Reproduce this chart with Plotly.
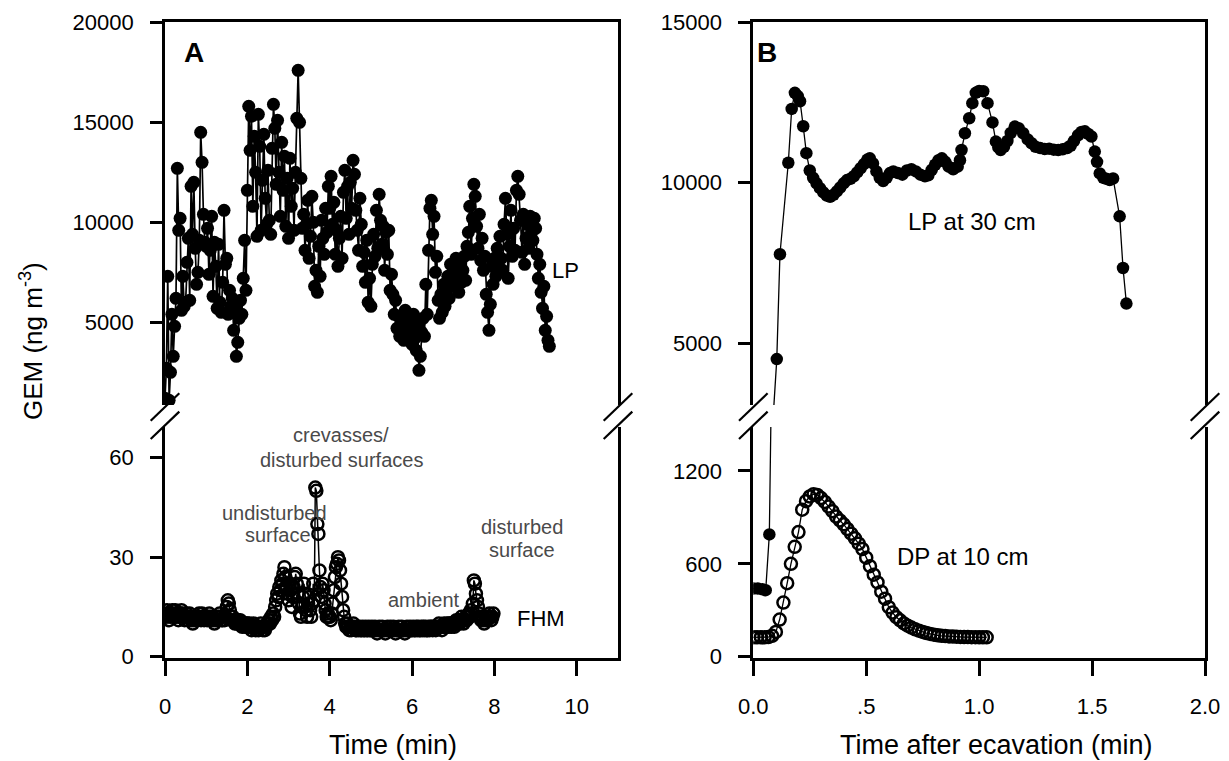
import numpy as np
import plotly.graph_objects as go

# ---------------- DATA ----------------
# Panel A: LP (filled) sampled every 2 s, FHM (open) sampled every 1.5 s
LP_A_DT = 1.0 / 30.0
lp_a = [
    1200, 2700, 7300, 1100, 2500, 5400, 3300, 4800, 6200, 12700, 9600, 10200, 5600, 7300, 5800, 6000, 8000, 9200, 6100, 11800, 9400, 12000, 8700, 6900, 7500, 9100, 14500, 13000, 10400, 9000,
    8800, 9700, 7400, 8600, 10300, 6300, 9000, 7800, 5700, 8900, 6000, 5500, 7000, 10600, 7900, 8200, 5400, 6600, 5800, 6200, 4600, 5800, 3300, 4000, 5200, 6100, 5400, 7200, 9100, 6600,
    11600, 15800, 13600, 15300, 10800, 14300, 12500, 9300, 15400, 13800, 9600, 12100, 14400, 11200, 9900, 12600, 10100, 9400, 13700, 15900, 14700, 11900, 15100, 12500, 10300, 14000, 11600, 13300, 9800, 12200,
    9200, 13200, 10800, 11700, 9600, 12500, 15200, 17600, 15000, 12200, 9700, 10400, 8600, 9900, 11100, 8200, 9300, 11300, 10000, 6800, 7600, 6500, 8800, 7300, 10100, 9200, 8400, 10700, 9500, 11800,
    10700, 12300, 9900, 11000, 8400, 9600, 7800, 9200, 10300, 8200, 11500, 12600, 10200, 11800, 9400, 12000, 10700, 13100, 12400, 10600, 9600, 8600, 11200, 9900, 7800, 8500, 7000, 9100, 6000, 7200,
    5800, 7900, 9400, 8300, 10600, 8700, 11400, 10100, 8900, 9800, 7600, 9500, 8400, 9600, 6600, 7400, 6400, 5400, 6100, 4700, 5300, 4300, 5000, 4500, 4100, 5600, 4700, 4300, 5200, 4600,
    3900, 5400, 4200, 3600, 4900, 2600, 3300, 4500, 5200, 4300, 6900, 5400, 8600, 10700, 11100, 9400, 10300, 7500, 8300, 6100, 5200, 6400, 5500, 6900, 5800, 6600, 7300, 6200, 7900, 6800,
    7700, 7100, 8200, 7400, 6500, 7900, 7000, 7600, 8300, 7100, 8800, 9500, 10800, 8400, 10200, 11900, 11300, 9800, 8700, 10400, 8100, 9200, 7600, 8300, 6400, 5500, 4600, 5900, 7800, 6900,
    8200, 7300, 8700, 7800, 9300, 8200, 7600, 9900, 11200, 9400, 7200, 8800, 10600, 8300, 9700, 8600, 11600, 12300, 11400, 10100, 8500, 10400, 7900, 9200, 9900, 8700, 10300, 9500, 9100, 10200,
    9700, 8400, 7200, 7900, 6500, 5700, 6800, 4600, 5300, 4100, 3800,
]

FHM_DT = 0.025
fhm_a = [
    13, 12, 14, 13, 11, 12, 13, 14, 12, 13, 14, 12, 13, 11, 12, 13, 14, 13, 12, 11,
    12, 13, 11, 12, 13, 12, 11, 10, 11, 12, 12, 11, 12, 13, 12, 11, 13, 12, 11, 12,
    12, 11, 12, 13, 12, 11, 12, 11, 10, 11, 12, 11, 12, 13, 12, 11, 11, 12, 11, 12,
    15, 17, 16, 14, 12, 11, 12, 11, 10, 11, 10, 11, 10, 11, 10, 9, 10, 10, 9, 10,
    10, 9, 10, 9, 8, 9, 10, 9, 8, 9, 9, 8, 9, 10, 9, 8, 9, 8, 9, 10,
    10, 11, 10, 12, 11, 13, 12, 15, 17, 19, 18, 21, 20, 23, 22, 25, 27, 24, 21, 19,
    17, 22, 20, 15, 18, 21, 24, 25, 22, 19, 16, 13, 12, 15, 18, 22, 19, 14, 12, 16,
    18, 14, 12, 16, 22, 17, 51, 50, 40, 37, 26, 21, 18, 22, 20, 16, 14, 12, 13, 12,
    12, 11, 13, 16, 20, 24, 27, 28, 30, 29, 26, 22, 18, 14, 12, 10, 9, 10, 9, 8,
    9, 8, 9, 10, 9, 8, 8, 9, 8, 9, 8, 8, 9, 8, 8, 9, 8, 8, 9, 8,
    8, 9, 8, 8, 9, 8, 7, 8, 9, 8, 8, 9, 8, 8, 7, 8, 9, 8, 8, 9,
    8, 8, 9, 8, 7, 8, 8, 9, 8, 8, 9, 8, 8, 7, 8, 9, 8, 8, 9, 8,
    8, 9, 8, 8, 9, 8, 9, 8, 8, 9, 8, 9, 8, 9, 8, 8, 9, 8, 9, 9,
    8, 9, 9, 8, 9, 9, 10, 9, 9, 8, 9, 10, 9, 9, 10, 9, 10, 10, 9, 10,
    10, 9, 10, 11, 10, 11, 10, 11, 12, 11, 10, 11, 12, 11, 12, 13, 12, 14, 13, 16,
    23, 22, 19, 17, 15, 13, 12, 11, 12, 11, 10, 11, 12, 11, 12, 13, 12, 11, 12, 13,
]

# Panel B: LP at 30 cm (filled)
lp_b_t = [
    0.000, 0.020, 0.040, 0.055, 0.071, 0.104, 0.118, 0.155, 0.170, 0.184, 0.197, 0.207, 0.221, 0.235, 0.250,
    0.265, 0.280, 0.295, 0.310, 0.325, 0.340, 0.355, 0.370, 0.385, 0.400, 0.415, 0.430, 0.445, 0.460, 0.475,
    0.490, 0.505, 0.516, 0.530, 0.545, 0.560, 0.575, 0.590, 0.605, 0.620, 0.640, 0.660, 0.680, 0.700, 0.720,
    0.740, 0.760, 0.775, 0.790, 0.805, 0.820, 0.835, 0.850, 0.865, 0.885, 0.905, 0.915, 0.922, 0.937, 0.956,
    0.970, 0.985, 1.000, 1.018, 1.037, 1.059, 1.074, 1.085, 1.095, 1.110, 1.125, 1.140, 1.158, 1.175, 1.195,
    1.215, 1.232, 1.250, 1.270, 1.290, 1.310, 1.330, 1.350, 1.370, 1.390, 1.405, 1.420, 1.438, 1.453, 1.468,
    1.483, 1.497, 1.512, 1.522, 1.534, 1.550, 1.563, 1.578, 1.593, 1.622, 1.637, 1.652,
]
lp_b = [
    440, 440, 435, 430, 790, 4500, 7770, 10620, 12300, 12800, 12700, 12540, 11760, 10920, 10380,
    10150, 9980, 9830, 9700, 9600, 9560, 9620, 9730, 9850, 9980, 10080, 10120, 10200, 10320, 10450,
    10580, 10720, 10760, 10600, 10350, 10150, 10050, 10150, 10300, 10350, 10300, 10250, 10380, 10420, 10350,
    10250, 10200, 10230, 10400, 10560, 10700, 10760, 10650, 10500, 10420, 10500, 10700, 11020, 11540, 12010,
    12480, 12800, 12860, 12850, 12480, 11880, 11280, 11100, 11020, 11120, 11300, 11550, 11750, 11700, 11540,
    11350, 11230, 11120, 11080, 11050, 11060, 11030, 11020, 11040, 11080, 11150, 11300, 11480, 11580, 11600,
    11520, 11440, 10970, 10650, 10290, 10150, 10120, 10080, 10130, 8950, 7340, 6230,
]

# Panel B: DP at 10 cm (open), sampled every 1 s
DP_DT = 1.0 / 60.0
dp_b = [
    125, 125, 125, 125, 127, 135, 160, 240, 350, 475, 600, 710, 805, 950, 1005, 1035, 1050, 1045, 1025, 1000,
    970, 940, 905, 880, 855, 825, 795, 765, 730, 695, 640, 585, 530, 480, 420, 375, 320, 285, 255, 235,
    215, 200, 188, 177, 168, 160, 153, 147, 142, 138, 135, 133, 131, 130, 129, 128, 127, 127, 126, 126,
    125, 125, 125,
]

x_ticks_a = [0, 2, 4, 6, 8, 10]
x_ticks_b = [0.0, 0.5, 1.0, 1.5, 2.0]
x_ticktext_b = ["0.0", ".5", "1.0", "1.5", "2.0"]
y_ticks_a_low = [0, 30, 60]
y_ticks_a_up = [5000, 10000, 15000, 20000]
y_ticks_b_low = [0, 600, 1200]
y_ticks_b_up = [5000, 10000, 15000]

# ---------------- LAYOUT GEOMETRY ----------------
W, H = 1229, 761
FONT = "Liberation Sans, Arial, Helvetica, sans-serif"


def px(x):
    return x / W


def py(y):
    return (H - y) / H


A_L, A_R = 165.0, 618.0
B_L, B_R = 753.3, 1205.0
TOP, UP_BOT, LOW_TOP, BOT = 22.3, 405.0, 427.0, 658.0

t_lp_a = np.arange(len(lp_a)) * LP_A_DT
t_fhm = np.arange(len(fhm_a)) * FHM_DT
t_dp = np.arange(len(dp_b)) * DP_DT

fig = go.Figure()
filled = dict(symbol="circle", size=13, color="black")
filled_b = dict(symbol="circle", size=12.5, color="black")
opened = dict(symbol="circle-open", size=12, color="black", line=dict(width=2.5, color="black"))

fig.add_trace(go.Scatter(x=t_lp_a, y=lp_a, xaxis="x", yaxis="y2", mode="lines+markers",
                         marker=filled, line=dict(color="black", width=1.7)))
fig.add_trace(go.Scatter(x=t_fhm, y=fhm_a, xaxis="x", yaxis="y", mode="lines+markers",
                         marker=opened, line=dict(color="black", width=1.5)))
# LP B drawn on both halves of the broken axis
fig.add_trace(go.Scatter(x=lp_b_t, y=lp_b, xaxis="x2", yaxis="y4", mode="lines+markers",
                         marker=filled_b, line=dict(color="black", width=1.3)))
fig.add_trace(go.Scatter(x=lp_b_t, y=lp_b, xaxis="x2", yaxis="y3", mode="lines+markers",
                         marker=filled_b, line=dict(color="black", width=1.3)))
fig.add_trace(go.Scatter(x=t_dp, y=dp_b, xaxis="x2", yaxis="y3", mode="lines+markers",
                         marker=opened, line=dict(color="black", width=1.3)))

LW = 2.8
common = dict(showgrid=False, zeroline=False, showline=True, linecolor="black", linewidth=LW,
              ticks="outside", tickcolor="black", tickwidth=LW, automargin=False,
              tickfont=dict(family=FONT, size=22, color="black"))

xcommon = dict(common, ticklen=15, ticklabelstandoff=12)
ycommon = dict(common, ticklen=12, mirror=True, ticklabelstandoff=12)

fig.update_layout(
    template="none",
    width=W, height=H, margin=dict(l=0, r=0, t=0, b=0, pad=0), autosize=False,
    paper_bgcolor="white", plot_bgcolor="rgba(0,0,0,0)", showlegend=False,
    xaxis=dict(xcommon, domain=[px(A_L), px(A_R)], range=[0, 11], anchor="y", tickvals=x_ticks_a),
    xaxis2=dict(xcommon, domain=[px(B_L), px(B_R)], range=[0, 2.0], anchor="y3",
                tickvals=x_ticks_b, ticktext=x_ticktext_b),
    xaxis3=dict(showgrid=False, zeroline=False, showline=True, linecolor="black", linewidth=LW,
                showticklabels=False, ticks="", matches="x", anchor="y2", side="top", automargin=False,
                domain=[px(A_L), px(A_R)]),
    xaxis4=dict(showgrid=False, zeroline=False, showline=True, linecolor="black", linewidth=LW,
                showticklabels=False, ticks="", matches="x2", anchor="y4", side="top", automargin=False,
                domain=[px(B_L), px(B_R)]),
    yaxis=dict(ycommon, domain=[py(BOT), py(LOW_TOP)], range=[-0.4, 69.25], anchor="x",
               tickvals=y_ticks_a_low, ticktext=[str(v) for v in y_ticks_a_low]),
    yaxis2=dict(ycommon, domain=[py(UP_BOT), py(TOP)], range=[865, 20000], anchor="x",
                tickvals=y_ticks_a_up, ticktext=[str(v) for v in y_ticks_a_up]),
    yaxis3=dict(ycommon, domain=[py(BOT), py(LOW_TOP)], range=[-8.4, 1484], anchor="x2",
                tickvals=y_ticks_b_low, ticktext=[str(v) for v in y_ticks_b_low]),
    yaxis4=dict(ycommon, domain=[py(UP_BOT), py(TOP)], range=[3069, 15000], anchor="x2",
                tickvals=y_ticks_b_up, ticktext=[str(v) for v in y_ticks_b_up]),
)

# dummy traces so the frame-top axes get drawn
fig.add_trace(go.Scatter(x=[None], y=[None], xaxis="x3", yaxis="y2", showlegend=False))
fig.add_trace(go.Scatter(x=[None], y=[None], xaxis="x4", yaxis="y4", showlegend=False))

# axis-break slashes
shapes = []
for xa in (A_L, A_R, B_L, B_R):
    for yc in (407.0, 425.3):
        shapes.append(dict(type="line", xref="paper", yref="paper",
                           x0=px(xa - 14.3), y0=py(yc + 13.7), x1=px(xa + 14.3), y1=py(yc - 13.7),
                           line=dict(color="black", width=2.2)))
fig.update_layout(shapes=shapes)

GRAY = "#4a4a4a"


def ann(text, x, y, size, color="black", bold=False, angle=0):
    t = f"<b>{text}</b>" if bold else text
    fig.add_annotation(text=t, x=px(x), y=py(y), xref="paper", yref="paper", showarrow=False,
                       xanchor="center", yanchor="middle", textangle=angle,
                       font=dict(family=FONT, size=size, color=color))


ann("A", 194, 52, 28, bold=True)
ann("B", 767, 53, 28, bold=True)
ann("LP", 565, 270, 22)
ann("FHM", 541, 618, 22)
ann("crevasses/", 341, 435, 20, GRAY)
ann("disturbed surfaces", 341, 460, 20, GRAY)
ann("undisturbed", 274, 513, 20, GRAY)
ann("surface", 278, 535, 20, GRAY)
ann("ambient", 424, 600, 20, GRAY)
ann("disturbed", 522, 527, 20, GRAY)
ann("surface", 522, 550, 20, GRAY)
ann("LP at 30 cm", 972, 222, 24)
ann("DP at 10 cm", 963, 556, 24)
ann("Time (min)", 393, 745, 27)
ann("Time after ecavation (min)", 996, 745, 27)
ann("GEM (ng m<sup>-3</sup>)", 31, 341, 26, angle=-90)

fig.write_html("out.html", config={"displayModeBar": False},
               post_script="document.body.style.margin='0';document.body.style.padding='0';")
